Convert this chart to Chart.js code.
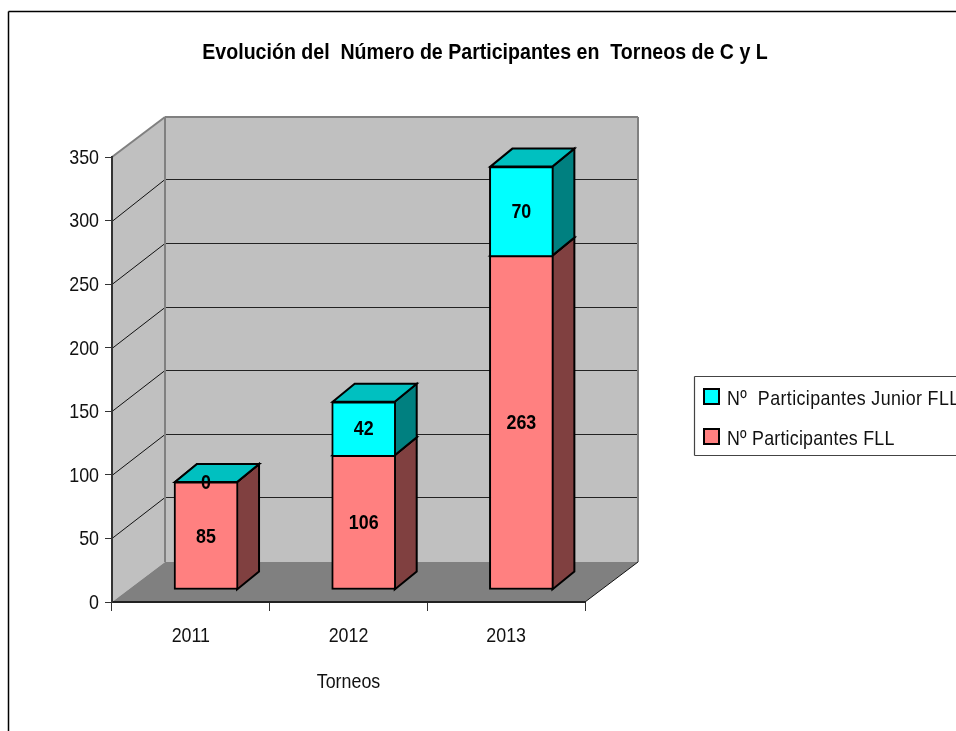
<!DOCTYPE html>
<html>
<head>
<meta charset="utf-8">
<style>
  body { margin: 0; background: #fff; overflow: hidden; }
  #wrap { position: relative; width: 956px; height: 731px; }
</style>
</head>
<body>
<div id="wrap"><canvas id="grafico" width="956" height="731"></canvas></div>
<script src="https://cdn.jsdelivr.net/npm/chart.js@4"></script>
<script>
const anios = ['2011', '2012', '2013'];
const participantesFLL = [85, 106, 263];
const participantesJunior = [0, 42, 70];
const nombreFLL = 'Nº Participantes FLL';
const nombreJunior = 'Nº  Participantes Junior FLL';
const titulo = 'Evolución del  Número de Participantes en  Torneos de C y L';

const FUENTE = '"Liberation Sans", Arial, sans-serif';
// profundidad de las paredes y de las barras
const PARED = { x: 53, y: -40 };
const BARRA = { x: 15.2, y: -12 };
const FONDO = { x: 22, y: -18 };

const canvas = document.getElementById('grafico');
const contexto = canvas.getContext('2d');

// No hay Arial Narrow instalada: se estrecha el texto en horizontal
const fillTextOriginal = contexto.fillText.bind(contexto);
contexto.fillText = function (texto, x, y) {
  const escala = contexto.font.includes('22px') ? 0.89 : 0.85;
  contexto.save();
  contexto.translate(x, y + 1);
  contexto.scale(escala, 1);
  fillTextOriginal(texto, 0, 0);
  contexto.restore();
};

function poligono(ctx, puntos, relleno, borde, ancho) {
  ctx.beginPath();
  puntos.forEach((p, i) => i ? ctx.lineTo(p[0], p[1]) : ctx.moveTo(p[0], p[1]));
  ctx.closePath();
  if (relleno) { ctx.fillStyle = relleno; ctx.fill(); }
  if (borde) { ctx.strokeStyle = borde; ctx.lineWidth = ancho; ctx.stroke(); }
}

function linea(ctx, x1, y1, x2, y2, color, ancho) {
  ctx.beginPath();
  ctx.moveTo(x1, y1);
  ctx.lineTo(x2, y2);
  ctx.strokeStyle = color;
  ctx.lineWidth = ancho;
  ctx.stroke();
}

// marco exterior, paredes, suelo y lineas de division
const paredes = {
  id: 'paredes',
  afterLayout(chart) {
    // el titulo no esta centrado sobre el area del grafico
    chart.titleBlock.left = 14;
    chart.titleBlock.right = 956;
  },
  beforeDraw(chart) {
    const { ctx, chartArea: a, scales: { y } } = chart;
    ctx.save();
    linea(ctx, 8.5, 731, 8.5, 11.5, '#000', 1.5);
    linea(ctx, 8.5, 11.5, 956, 11.5, '#000', 1.5);

    const cima = y.getPixelForValue(350), base = y.getPixelForValue(0);
    poligono(ctx, [[a.left + PARED.x, cima + PARED.y], [a.right + PARED.x, cima + PARED.y],
      [a.right + PARED.x, base + PARED.y], [a.left + PARED.x, base + PARED.y]], '#c0c0c0');
    poligono(ctx, [[a.left, cima], [a.left + PARED.x, cima + PARED.y],
      [a.left + PARED.x, base + PARED.y], [a.left, base]], '#c0c0c0');
    poligono(ctx, [[a.left, base], [a.left + PARED.x, base + PARED.y],
      [a.right + PARED.x, base + PARED.y], [a.right, base]], '#808080');

    y.ticks.forEach(t => {
      if (t.value === 0 || t.value === 350) return;
      const py = y.getPixelForValue(t.value);
      const atras = Math.floor(py + PARED.y - 0.7) + 0.5;
      linea(ctx, a.left, Math.round(py) + 0.5, a.left + PARED.x, atras, '#111', 1);
      linea(ctx, a.left + PARED.x, atras, a.right + PARED.x, atras, '#222', 1);
    });

    linea(ctx, a.left, cima, a.left + PARED.x, cima + PARED.y, '#808080', 2);
    linea(ctx, a.left + PARED.x, cima + PARED.y, a.right + PARED.x, cima + PARED.y, '#808080', 2);
    linea(ctx, a.right + PARED.x, cima + PARED.y, a.right + PARED.x, base + PARED.y, '#808080', 2);
    linea(ctx, a.left + PARED.x, cima + PARED.y, a.left + PARED.x, base + PARED.y, '#808080', 2);
    linea(ctx, a.right, base, a.right + PARED.x, base + PARED.y, '#111', 1);
    ctx.restore();
  },
  beforeDatasetsDraw(chart) {
    const ctx = chart.ctx;
    // caras lateral y superior de cada tramo, de abajo arriba
    const colores = [['#804040', '#c06060'], ['#008080', '#00c0c0']];
    chart.data.datasets.forEach((ds, d) => {
      chart.getDatasetMeta(d).data.forEach(b => {
        const der = b.x + b.width / 2 + BARRA.x - 1, izq = b.x - b.width / 2 + BARRA.x + 1;
        const arriba = b.y + BARRA.y, abajo = b.base + BARRA.y;
        ctx.save();
        ctx.lineJoin = 'miter';
        poligono(ctx, [[der, arriba], [der + FONDO.x, arriba + FONDO.y],
          [der + FONDO.x, abajo + FONDO.y], [der, abajo]], colores[d][0], '#000', 2);
        poligono(ctx, [[izq, arriba], [izq + FONDO.x, arriba + FONDO.y],
          [der + FONDO.x, arriba + FONDO.y], [der, arriba]], colores[d][1], '#000', 2);
        ctx.restore();
      });
    });
    ctx.save();
    ctx.translate(BARRA.x, BARRA.y);
  },
  afterDatasetsDraw(chart) {
    const ctx = chart.ctx;
    ctx.restore();
    // etiquetas de valor
    ctx.save();
    ctx.font = 'bold 21px ' + FUENTE;
    ctx.fillStyle = '#000';
    ctx.textAlign = 'center';
    ctx.textBaseline = 'middle';
    chart.data.datasets.forEach((ds, d) => {
      chart.getDatasetMeta(d).data.forEach((b, i) => {
        ctx.fillText(String(ds.data[i]), b.x + BARRA.x, (b.y + b.base) / 2 + BARRA.y);
      });
    });
    ctx.restore();
  },
  afterDraw(chart) {
    const ctx = chart.ctx;
    // leyenda
    ctx.save();
    linea(ctx, 956, 376.5, 694.5, 376.5, '#444', 1.2);
    linea(ctx, 694.5, 376.5, 694.5, 455.5, '#444', 1.2);
    linea(ctx, 694.5, 455.5, 956, 455.5, '#444', 1.2);
    ctx.font = '21px ' + FUENTE;
    ctx.textBaseline = 'middle';
    const filas = [[chart.data.datasets[1], 389, '0.45px'], [chart.data.datasets[0], 429, '0.25px']];
    filas.forEach(([ds, y, espacio]) => {
      ctx.fillStyle = ds.backgroundColor;
      ctx.strokeStyle = '#000';
      ctx.lineWidth = 2;
      ctx.fillRect(704, y, 15, 15);
      ctx.strokeRect(704, y, 15, 15);
      ctx.fillStyle = '#111';
      ctx.letterSpacing = espacio;
      ctx.fillText(ds.label, 727, y + 9);
    });
    ctx.restore();
  }
};

new Chart(canvas, {
  type: 'bar',
  data: {
    labels: anios,
    datasets: [
      { label: nombreFLL, data: participantesFLL, backgroundColor: '#ff8080', borderSkipped: false },
      { label: nombreJunior, data: participantesJunior, backgroundColor: '#00ffff', borderSkipped: 'start' }
    ]
  },
  options: {
    responsive: false,
    animation: false,
    clip: false,
    layout: { padding: { left: 0, right: 371, top: 0, bottom: 0 } },
    datasets: { bar: { barThickness: 64, borderWidth: 2, borderColor: '#000' } },
    plugins: {
      legend: { display: false },
      tooltip: { enabled: false },
      title: {
        display: true,
        text: titulo,
        color: '#000',
        font: { family: FUENTE, size: 22, weight: 'bold', lineHeight: 1.2 },
        padding: { top: 38.5, bottom: 92.1 }
      }
    },
    scales: {
      x: {
        stacked: true,
        afterFit(s) { s.height = 129; },
        grid: { offset: true, drawOnChartArea: false, color: '#333', tickLength: 9 },
        border: { color: '#222', width: 2 },
        ticks: { color: '#111', padding: 12, maxRotation: 0, font: { family: FUENTE, size: 21 } },
        title: { display: true, text: 'Torneos', color: '#111', font: { family: FUENTE, size: 21 }, padding: { top: 0, bottom: 37 } }
      },
      y: {
        stacked: true,
        min: 0,
        max: 350,
        afterFit(s) { s.width = 112; },
        grid: { drawOnChartArea: false, color: '#333', tickLength: 7 },
        border: { color: '#333', width: 2 },
        ticks: { stepSize: 50, color: '#111', padding: 6, font: { family: FUENTE, size: 21 } }
      }
    }
  },
  plugins: [paredes]
});
</script>
</body>
</html>
